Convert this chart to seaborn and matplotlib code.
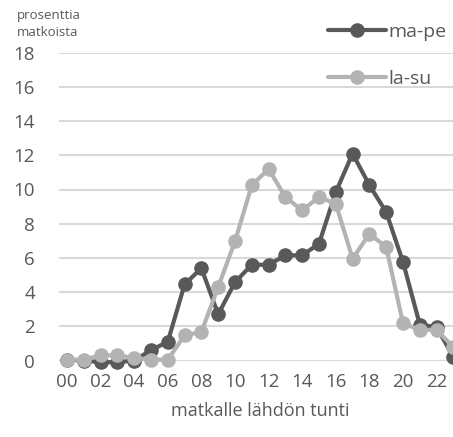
import pandas as pd
import matplotlib
matplotlib.use("Agg")
import matplotlib.pyplot as plt
import seaborn as sns

hours = list(range(24))
hour_labels = ["%02d" % h for h in range(0, 24, 2)]
weekday = [0.05, 0.0, -0.1, -0.1, 0.0, 0.6, 1.1, 4.45, 5.4, 2.7, 4.58, 5.6,
           5.6, 6.15, 6.15, 6.83, 9.85, 12.1, 10.25, 8.68, 5.76, 2.1, 1.95, 0.2]
weekend = [0.05, 0.05, 0.3, 0.3, 0.15, 0.05, 0.05, 1.47, 1.67, 4.3, 6.97, 10.25,
           11.2, 9.56, 8.78, 9.56, 9.17, 5.95, 7.41, 6.63, 2.18, 1.79, 1.79, 0.78]
series_names = ["ma-pe", "la-su"]
colors = ["#595959", "#b3b3b3"]

df = pd.DataFrame({"hour": hours * 2,
                   "value": weekday + weekend,
                   "series": [series_names[0]] * 24 + [series_names[1]] * 24})

sns.set_style("white")
plt.rcParams["font.family"] = ["Open Sans", "DejaVu Sans"]
text_col = "#595959"

fig = plt.figure(figsize=(4.53, 4.37), dpi=100)
ax = fig.add_axes([58.6 / 453, 76.5 / 437, 403.2 / 453, 307.8 / 437])

for name, col in zip(series_names, colors):
    sns.lineplot(data=df[df["series"] == name], x="hour", y="value", ax=ax,
                 color=col, linewidth=3.0, marker="o", markersize=10.5,
                 markeredgewidth=0, label=name, clip_on=False, zorder=3)

ax.set_xlim(-0.5, 23.5)
ax.set_ylim(0, 18)
ax.set_yticks(range(0, 19, 2))
ax.set_xticks(range(0, 24, 2))
ax.set_xticklabels(hour_labels)
ax.grid(axis="y", color="#d9d9d9", linewidth=1.5)
ax.grid(axis="x", visible=False)
for s in ax.spines.values():
    s.set_visible(False)
ax.tick_params(axis="both", length=0, labelsize=13.5, colors=text_col)
ax.tick_params(axis="y", pad=17)
ax.tick_params(axis="x", pad=9)
ax.set_xlabel("matkalle lähdön tunti", fontsize=13, color=text_col, labelpad=8)
ax.set_ylabel("")

fig.text(17 / 453, 1 - 9 / 437, "prosenttia\nmatkoista", fontsize=9.5,
         color=text_col, va="top", ha="left", linespacing=1.35)

handles, labels = ax.get_legend_handles_labels()
ax.legend_.remove()
fig.legend(handles, labels, loc="upper left", bbox_to_anchor=(328 / 453, 1 - 23 / 437),
           frameon=False, fontsize=14, handlelength=3.0, handletextpad=0.1,
           labelspacing=1.5, borderpad=0, borderaxespad=0, labelcolor=text_col)

fig.savefig("out.png", dpi=100)
